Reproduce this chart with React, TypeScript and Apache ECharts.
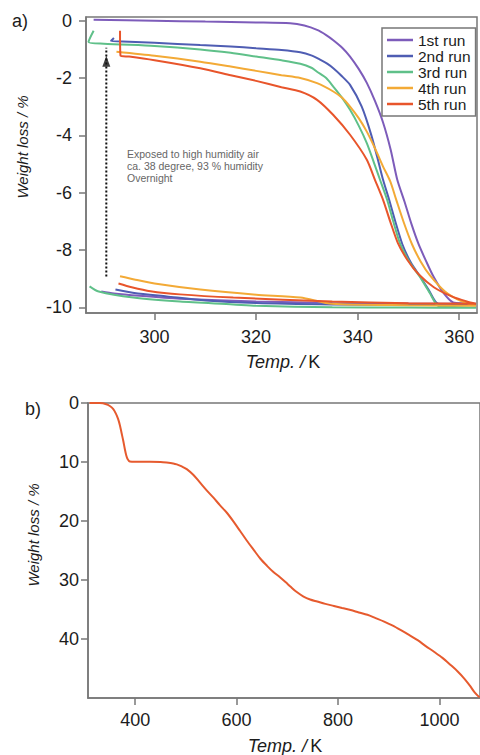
import React, { useEffect, useRef } from "react";
import * as echarts from "echarts";

const FONT = "'Liberation Sans', Arial, Helvetica, sans-serif";
const INK = "#1c1c1c";
const FRAME = "#777777";

// (a) repeated heating runs: [temperature / K, weight change / %]
const runNames = ["1st run", "2nd run", "3rd run", "4th run", "5th run"];
const runColors = ["#7d5cba", "#4f5db3", "#5fc089", "#f3aa36", "#e8552b"];

const run1: [number, number][] = [
  [288.0, 0.03], [300, 0.0], [310, -0.03], [320, -0.06], [326.7, -0.09], [329.5, -0.17],
  [332, -0.32], [333.8, -0.5], [335.2, -0.68], [337, -0.95], [338.5, -1.25], [340.2, -1.68],
  [341.8, -2.17], [343.4, -2.8], [345, -3.55], [346.5, -4.5], [347.8, -5.55], [349.2, -6.3],
  [350.6, -7.1], [352, -7.8], [353.5, -8.4], [354.9, -8.92], [356.9, -9.5], [358.8, -9.83],
  [361, -9.86], [363.3, -9.88],
  [350, -9.87], [335, -9.85], [320, -9.8], [305, -9.7], [297, -9.6], [292, -9.52], [289.5, -9.45],
];

const run2: [number, number][] = [
  [292.0, -0.6], [291.4, -0.71], [295, -0.73], [300, -0.77], [309, -0.85], [315, -0.9],
  [320, -0.96], [325, -1.02], [328.7, -1.1], [331, -1.22], [332.5, -1.35], [334, -1.5],
  [335.2, -1.66], [336.8, -1.92], [338.5, -2.24], [340.8, -3.0], [342.7, -4.0], [344.2, -5.0],
  [345, -5.55], [346.2, -6.25], [347.4, -7.0], [348.8, -7.8], [350.5, -8.45], [352.4, -8.95],
  [354, -9.4], [355.3, -9.8], [356.3, -9.9], [360, -9.92], [363.3, -9.93],
  [350, -9.92], [335, -9.9], [320, -9.85], [310, -9.76], [302.4, -9.62], [296, -9.5], [292.3, -9.38],
];

const run3: [number, number][] = [
  [288.0, -0.35], [287.0, -0.74], [290, -0.8], [300, -0.88], [309, -1.0], [315, -1.12],
  [320, -1.25], [325, -1.38], [328.7, -1.5], [331, -1.65], [332, -1.78], [333.8, -2.0],
  [335.2, -2.3], [336.8, -2.66], [338.5, -3.11], [340.2, -3.66], [341.8, -4.27], [343.2, -4.95],
  [344.4, -5.55], [345.8, -6.25], [347, -7.0], [348.4, -7.8], [350.3, -8.45], [352.3, -8.95],
  [354.2, -9.5], [355.9, -9.95], [360, -10.0], [363.3, -10.02],
  [350, -10.01], [335, -10.0], [320, -9.95], [315.5, -9.9], [305, -9.8], [295.8, -9.66], [289, -9.45], [287.2, -9.27],
];

const run4: [number, number][] = [
  [292.5, -1.08], [300, -1.22], [309, -1.43], [315, -1.6], [320, -1.75], [325, -1.9],
  [328.7, -2.0], [332, -2.18], [335.2, -2.47], [337, -2.7], [338.5, -3.0], [340.2, -3.4],
  [341.8, -3.87], [343.4, -4.45], [345, -5.09], [346.4, -5.6], [347.6, -6.25], [349.1, -7.05],
  [350.7, -7.8], [352.4, -8.4], [354.2, -8.88], [357.2, -9.45], [360.3, -9.78], [363.3, -9.95],
  [350, -9.93], [335, -9.88], [328.7, -9.66], [320, -9.56], [309, -9.38], [300, -9.17], [296, -9.03], [293.2, -8.92],
];

const run5: [number, number][] = [
  [293.2, -0.35], [293.3, -1.22], [295, -1.25], [300, -1.38], [309, -1.66], [315, -1.9],
  [320, -2.1], [325, -2.32], [328.7, -2.47], [332, -2.76], [335.2, -3.29], [338.5, -3.98],
  [341.8, -4.85], [343.4, -5.55], [345, -6.25], [346.4, -7.0], [347.9, -7.75], [349.8, -8.35],
  [352, -8.85], [355, -9.3], [358.5, -9.62], [361.5, -9.8], [363.3, -9.88],
  [350, -9.86], [335, -9.8], [315.5, -9.66], [305, -9.55], [299.2, -9.44], [295.5, -9.3], [292.9, -9.17],
];

const runs = [run1, run2, run3, run4, run5];

// (b) single TG scan up to high temperature
const tgCurve: [number, number][] = [
  [310, 0], [330, 0.02], [343, 0.2], [350, 0.5], [356.5, 1.0], [362, 1.8], [366.3, 2.7],
  [370, 3.8], [373, 5.0], [376.5, 6.4], [379.6, 7.8], [382.5, 8.9], [385, 9.5], [389.5, 9.93],
  [400, 9.97], [429, 9.95], [450, 10.0], [462, 10.1], [475, 10.25], [482, 10.4], [492, 10.75],
  [501.7, 11.2], [515, 12.2], [528, 13.5], [541, 14.8], [554.4, 16.05], [567, 17.3],
  [580.8, 18.6], [594, 20.1], [607, 21.7], [620, 23.3], [633.4, 24.85], [647, 26.4],
  [660, 27.6], [672, 28.6], [685, 29.5], [697, 30.4], [706, 31.1], [718, 32.0], [732, 32.8],
  [745, 33.3], [759, 33.65], [775, 34.05], [792, 34.4], [808, 34.75], [825, 35.1], [841, 35.5],
  [858, 35.9], [874, 36.45], [891, 37.05], [907, 37.7], [924, 38.5], [940, 39.3], [957, 40.2],
  [973, 41.2], [990, 42.2], [1006, 43.2], [1022, 44.4], [1036, 45.5], [1049, 46.7],
  [1060, 47.9], [1069, 49.0], [1079, 49.9],
];

// tick positions
const tempTicksA = [300, 320, 340, 360];
const lossTicksA = [-10, -8, -6, -4, -2, 0];
const tempTicksB = [400, 600, 800, 1000];
const lossTicksB = [0, 10, 20, 30, 40];

// humidity exposure arrow (from cooled state back up to rehydrated state)
const exposureArrow = { temp: 290.5, from: -8.93, to: -1.24 };
const exposureNote = "Exposed to high humidity air\nca. 38 degree, 93 % humidity\nOvernight";

function axisCommon(ticks: number[], margin: number) {
  return {
    axisLine: { show: true, onZero: false, lineStyle: { color: FRAME, width: 1.5 } },
    axisTick: { show: true, inside: false, length: 7, customValues: ticks, lineStyle: { color: FRAME, width: 1.5 } },
    axisLabel: {
      customValues: ticks,
      fontSize: 18,
      color: INK,
      fontFamily: FONT,
      margin,
      formatter: (v: number) => String(v),
    },
    splitLine: { show: false },
  };
}

export default function App() {
  const ref = useRef<HTMLDivElement>(null);

  useEffect(() => {
    if (!ref.current) return;
    const chart = echarts.init(ref.current, undefined, { renderer: "svg" });

    const runSeries = runs.map((data, i) => ({
      name: runNames[i],
      type: "line",
      xAxisIndex: 0,
      yAxisIndex: 0,
      data,
      showSymbol: false,
      symbol: "none",
      smooth: 0.25,
      lineStyle: { color: runColors[i], width: 2 },
      itemStyle: { color: runColors[i] },
      emphasis: { disabled: true },
      z: 3 + i,
    }));

    chart.setOption({
      animation: false,
      backgroundColor: "#ffffff",
      grid: [
        { left: 86, top: 17, width: 391, height: 296, show: true, borderColor: FRAME, borderWidth: 1.5, backgroundColor: "transparent" },
        { left: 88, top: 403, width: 392, height: 295, show: true, borderColor: FRAME, borderWidth: 1.5, backgroundColor: "transparent" },
      ],
      xAxis: [
        { type: "value", gridIndex: 0, min: 286.5, max: 363.5, ...axisCommon(tempTicksA, 15) },
        { type: "value", gridIndex: 1, min: 307, max: 1080, ...axisCommon(tempTicksB, 13) },
      ],
      yAxis: [
        { type: "value", gridIndex: 0, min: -10.2, max: 0.13, ...axisCommon(lossTicksA, 14) },
        { type: "value", gridIndex: 1, min: 0, max: 50, inverse: true, ...axisCommon(lossTicksB, 9) },
      ],
      legend: {
        show: true,
        orient: "vertical",
        left: 382,
        top: 28,
        data: runNames,
        icon: "rect",
        itemWidth: 26,
        itemHeight: 2.5,
        itemGap: 0,
        itemTextGap: 5,
        padding: [4, 5, 4, 5],
        borderColor: FRAME,
        borderWidth: 1.5,
        backgroundColor: "#ffffff",
        selectedMode: false,
        textStyle: { fontSize: 15.5, color: INK, fontFamily: FONT, lineHeight: 16 },
      },
      series: [
        ...runSeries,
        {
          name: "exposure",
          type: "line",
          xAxisIndex: 0,
          yAxisIndex: 0,
          data: [
            [exposureArrow.temp, exposureArrow.from],
            [exposureArrow.temp, exposureArrow.to + 0.3],
          ],
          showSymbol: false,
          symbol: "none",
          lineStyle: { color: "#111", type: "dotted", width: 2 },
          emphasis: { disabled: true },
          silent: true,
          z: 8,
        },
        {
          name: "exposure tip",
          type: "scatter",
          xAxisIndex: 0,
          yAxisIndex: 0,
          data: [[exposureArrow.temp, exposureArrow.to]],
          symbol: "triangle",
          symbolSize: [8, 11],
          symbolOffset: [0, 5],
          itemStyle: { color: "#111" },
          emphasis: { disabled: true },
          silent: true,
          z: 8,
        },
        {
          name: "TG",
          type: "line",
          xAxisIndex: 1,
          yAxisIndex: 1,
          data: tgCurve,
          showSymbol: false,
          symbol: "none",
          smooth: 0.3,
          lineStyle: { color: "#e65a2e", width: 2 },
          emphasis: { disabled: true },
        },
      ],
      graphic: [
        { type: "text", x: 12, y: 21, style: { text: "a)", fontSize: 18, fontFamily: FONT, fill: INK, verticalAlign: "middle" } },
        { type: "text", x: 25, y: 409, style: { text: "b)", fontSize: 18, fontFamily: FONT, fill: INK, verticalAlign: "middle" } },
        {
          type: "text", x: 22, y: 147, rotation: Math.PI / 2,
          style: { text: "Weight loss / %", fontSize: 15, fontStyle: "italic", fontFamily: FONT, fill: INK, align: "center", verticalAlign: "middle" },
        },
        {
          type: "text", x: 33, y: 535, rotation: Math.PI / 2,
          style: { text: "Weight loss / %", fontSize: 15, fontStyle: "italic", fontFamily: FONT, fill: INK, align: "center", verticalAlign: "middle" },
        },
        {
          type: "text", x: 283, y: 362,
          style: {
            text: "{i|Temp. /} {n|K}", align: "center", verticalAlign: "middle",
            rich: {
              i: { fontSize: 18, fontStyle: "italic", fontFamily: FONT, fill: INK, color: INK },
              n: { fontSize: 18, fontFamily: FONT, fill: INK, color: INK },
            },
          },
        },
        {
          type: "text", x: 285, y: 746,
          style: {
            text: "{i|Temp. /} {n|K}", align: "center", verticalAlign: "middle",
            rich: {
              i: { fontSize: 18, fontStyle: "italic", fontFamily: FONT, fill: INK, color: INK },
              n: { fontSize: 18, fontFamily: FONT, fill: INK, color: INK },
            },
          },
        },
        {
          type: "text", x: 127, y: 148,
          style: { text: exposureNote, fontSize: 10.5, lineHeight: 12, fontFamily: FONT, fill: "#666", verticalAlign: "top" },
        },
      ],
    });

    return () => chart.dispose();
  }, []);

  return <div ref={ref} style={{ position: "absolute", left: 0, top: 0, width: 480, height: 755 }} />;
}
